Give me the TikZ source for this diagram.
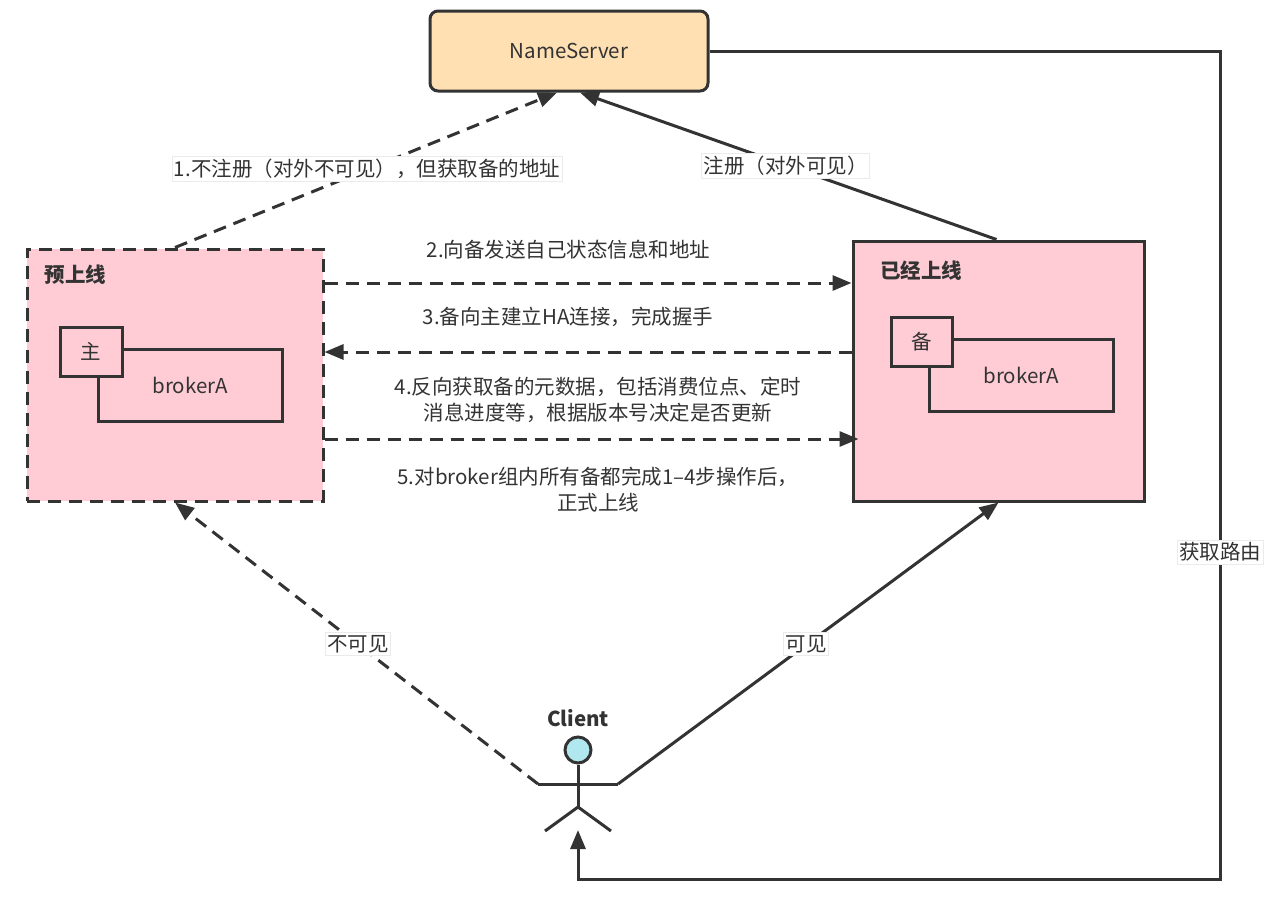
\documentclass[tikz,border=0pt]{standalone}
\usepackage{fontspec}
\setmainfont{Noto Sans CJK SC}
\usetikzlibrary{arrows.meta}
\definecolor{ln}{HTML}{333333}
\definecolor{nsfill}{HTML}{FFE0B3}
\definecolor{pinkfill}{HTML}{FFCCD5}
\definecolor{headfill}{HTML}{B1E8F0}
\begin{document}
\begin{tikzpicture}[x=1pt,y=-1pt,
  font=\fontsize{20.5}{26}\selectfont, text=ln,
  line/.style={draw=ln, line width=3pt},
  dsh/.style={dash pattern=on 13pt off 8pt},
  tip/.style={-{Triangle[length=19pt,width=15pt]}},
  lbl/.style={fill=white, draw=black!8, line width=0.6pt, inner xsep=2pt, inner ysep=2.5pt},
  plain/.style={inner sep=1pt},
  pinkbox/.style={draw=ln, line width=3pt, fill=pinkfill, inner sep=0pt},
  title/.style={font=\fontsize{20.5}{26}\selectfont\bfseries},
]
\useasboundingbox (0,0) rectangle (1268,900);

% NameServer
\node[draw=ln, line width=3pt, fill=nsfill, rounded corners=8pt,
      minimum width=278pt, minimum height=80pt] (ns) at (569,51) {NameServer};

% left box (pre-online)
\node[pinkbox, dsh, minimum width=296pt, minimum height=252pt] (pre) at (175,375) {};
\node[title] (pret) at (75.5,275) {预上线};
\node[pinkbox, minimum width=184pt, minimum height=72pt] (preb) at (190,385) {brokerA};
\node[pinkbox, minimum width=62pt, minimum height=49pt] (prem) at (91,351.5) {主};

% right box (online)
\node[pinkbox, minimum width=291pt, minimum height=260pt] (rb) at (998.5,371) {};
\node[title] (rbt) at (921,271) {已经上线};
\node[pinkbox, minimum width=184pt, minimum height=72pt] (rbb) at (1021,375) {brokerA};
\node[pinkbox, minimum width=61pt, minimum height=49pt] (rbs) at (922,341.5) {备};

% client actor
\node[title] (ctext) at (578,718) {Client};
\node[circle, draw=ln, line width=3pt, fill=headfill, minimum size=26pt, inner sep=0pt] (chead) at (578,750) {};
\coordinate (carmL) at (538,784);
\coordinate (carmR) at (618,784);
\coordinate (chip) at (578,807);
\coordinate (clegL) at (545,831);
\coordinate (clegR) at (611,831);
\coordinate (cfeet) at (578,830);
\draw[line] (chead.south) -- (chip);
\draw[line] (carmL) -- (carmR);
\draw[line] (clegL) -- (chip) -- (clegR);

% connectors to NameServer
\draw[line, dsh, tip] (pre.north) -- ([xshift=-12pt]ns.south);
\node[lbl] (l1) at (367,169) {1.不注册（对外不可见），但获取备的地址};
\draw[line, tip] ([xshift=-2pt]rb.north) -- ([xshift=11pt]ns.south);
\node[lbl] (l2) at (785.5,166) {注册（对外可见）};

% routing line
\coordinate (r1) at (1220,51);
\coordinate (r2) at (1220,879);
\coordinate (r3) at (578,879);
\draw[line, tip] (ns.east) -- (r1) -- (r2) -- (r3) -- (cfeet);
\node[lbl] (lr) at (1220,552) {获取路由};

% steps between brokers
\draw[line, dsh, tip] (pre.east |- 0,283) -- (rb.west |- 0,283);
\node[plain] (s2) at (568.5,250) {2.向备发送自己状态信息和地址};
\draw[line, dsh, tip] (rb.west |- 0,352) -- (pre.east |- 0,352);
\node[plain] (s3) at (568,317) {3.备向主建立HA连接，完成握手};
\node[plain, align=center] (s4) at (598,400) {4.反向获取备的元数据，包括消费位点、定时\\消息进度等，根据版本号决定是否更新};
\draw[line, dsh, tip] (pre.east |- 0,439) -- ([xshift=7pt]rb.west |- 0,439);
\node[plain, align=center] (s5) at (598,489.5) {5.对broker组内所有备都完成1–4步操作后，\\正式上线};

% client connectors
\draw[line, dsh, tip] (carmL) -- (pre.south);
\node[lbl] (lv1) at (358,644) {不可见};
\draw[line, tip] (carmR) -- (rb.south);
\node[lbl] (lv2) at (806,644) {可见};
\end{tikzpicture}
\end{document}
